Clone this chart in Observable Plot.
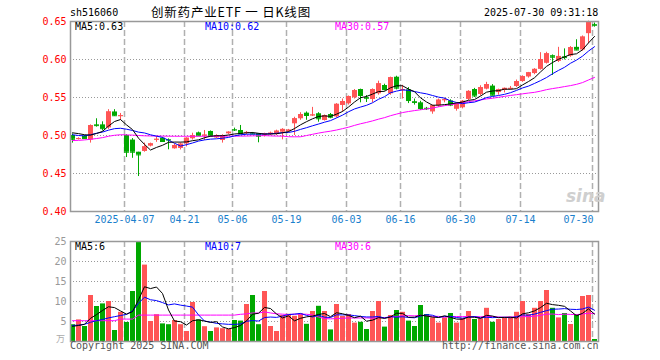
<!DOCTYPE html>
<html><head><meta charset="utf-8">
<script src="https://cdn.jsdelivr.net/npm/d3@7"></script>
<script src="https://cdn.jsdelivr.net/npm/@observablehq/plot@0.6"></script>
<style>
body{margin:0;background:#fff;}
#c{position:relative;width:660px;height:360px;overflow:hidden;font-family:"DejaVu Sans Mono",monospace;background:#fff;}
#c svg{position:absolute;left:0;}
.t{position:absolute;white-space:nowrap;font-size:10px;line-height:10px;}
</style></head><body><div id="c"></div>
<script>
// ---- data ----
const dates = [
"03-24","03-25","03-26","03-27","03-28","03-31",
"04-01","04-02","04-03","04-07","04-08","04-09","04-10","04-11","04-14","04-15","04-16","04-17","04-18",
"04-21","04-22","04-23","04-24","04-25","04-28","04-29","04-30",
"05-06","05-07","05-08","05-09","05-12","05-13","05-14","05-15","05-16","05-19","05-20","05-21","05-22","05-23",
"05-26","05-27","05-28","05-29","05-30",
"06-03","06-04","06-05","06-06","06-09","06-10","06-11","06-12","06-13","06-16","06-17","06-18","06-19","06-20",
"06-23","06-24","06-25","06-26","06-27","06-30",
"07-01","07-02","07-03","07-04","07-07","07-08","07-09","07-10","07-11","07-14","07-15","07-16","07-17","07-18",
"07-21","07-22","07-23","07-24","07-25","07-28","07-29","07-30"];
const open = [
0.500,0.495,0.499,0.494,0.514,0.514,0.510,0.531,0.525,0.500,
0.494,0.478,0.479,0.486,0.494,0.4964,0.4947,0.4825,0.483,0.489,
0.4957,0.5035,0.4995,0.5053,0.4968,0.4934,0.5022,0.5078,0.5066,0.503,
0.5025,0.5022,0.501,0.501,0.5013,0.5043,0.5053,0.5154,0.522,0.5294,
0.526,0.5286,0.5197,0.5276,0.5245,0.5395,0.5417,0.5496,0.5605,0.550,
0.5474,0.5549,0.5658,0.5549,0.5767,0.559,0.560,0.5445,0.543,0.5358,
0.531,0.539,0.546,0.5455,0.5345,0.5365,0.5475,0.5605,0.554,0.561,
0.565,0.5565,0.5595,0.5615,0.5645,0.571,0.577,0.5815,0.587,0.595,
0.605,0.5975,0.6035,0.6045,0.616,0.6125,0.634,0.646];
const high = [
0.502,0.497,0.500,0.514,0.522,0.518,0.534,0.534,0.529,0.501,
0.496,0.478,0.490,0.490,0.499,0.4975,0.4955,0.489,0.490,0.497,
0.503,0.5045,0.5066,0.506,0.501,0.501,0.505,0.5097,0.5132,0.5053,
0.504,0.5026,0.503,0.5045,0.507,0.509,0.508,0.524,0.530,0.531,
0.537,0.530,0.527,0.529,0.542,0.548,0.552,0.5605,0.561,0.5526,
0.5614,0.5715,0.5675,0.5768,0.578,0.566,0.563,0.548,0.545,0.537,
0.540,0.548,0.549,0.547,0.543,0.546,0.559,0.562,0.5655,0.570,
0.567,0.561,0.5625,0.5645,0.573,0.5785,0.583,0.588,0.609,0.6095,
0.606,0.616,0.614,0.617,0.626,0.631,0.6505,0.648];
const low = [
0.490,0.494,0.495,0.490,0.511,0.506,0.508,0.525,0.520,0.471,
0.470,0.446,0.478,0.485,0.491,0.491,0.4812,0.482,0.481,0.485,
0.494,0.499,0.4934,0.498,0.496,0.490,0.501,0.5053,0.5013,0.501,
0.501,0.4904,0.498,0.500,0.500,0.4943,0.5035,0.500,0.520,0.520,
0.525,0.5175,0.519,0.522,0.523,0.531,0.540,0.548,0.543,0.5434,
0.543,0.553,0.5585,0.553,0.560,0.548,0.542,0.540,0.533,0.533,
0.528,0.537,0.543,0.538,0.532,0.535,0.546,0.550,0.552,0.560,
0.552,0.553,0.556,0.560,0.563,0.570,0.5755,0.580,0.586,0.594,
0.579,0.596,0.5995,0.603,0.6115,0.611,0.621,0.6425];
const close = [
0.495,0.496,0.496,0.513,0.513,0.509,0.531,0.526,0.526,0.478,
0.478,0.4745,0.485,0.489,0.495,0.4921,0.494,0.4868,0.4886,0.4964,
0.500,0.4996,0.5005,0.499,0.4995,0.500,0.5043,0.5072,0.5022,0.504,
0.502,0.499,0.502,0.503,0.5057,0.508,0.507,0.522,0.5276,0.5263,
0.527,0.522,0.5263,0.524,0.541,0.5447,0.5513,0.559,0.5526,0.549,
0.5605,0.568,0.5605,0.576,0.5623,0.5605,0.546,0.5435,0.5355,0.5352,
0.539,0.5465,0.547,0.540,0.5415,0.545,0.558,0.552,0.563,0.567,
0.553,0.560,0.562,0.562,0.571,0.5775,0.5825,0.587,0.600,0.6075,
0.603,0.604,0.6025,0.6155,0.6125,0.6295,0.649,0.645];
const volume = [
4.2,5.4,3.75,11.5,8.75,9.4,10.0,2.75,7.3,4.75,
12.5,24.8,19.1,5.0,6.7,4.4,4.2,5.25,4.2,2.5,
9.75,5.4,3.7,2.5,3.4,3.2,3.0,5.25,5.1,9.25,
11.5,4.2,12.5,3.75,2.5,6.5,6.8,6.3,6.9,4.3,
7.5,8.8,7.5,2.9,9.25,6.25,6.75,4.6,4.8,3.0,
7.5,10.0,3.6,6.5,7.75,7.3,5.1,3.75,9.0,6.75,
5.9,4.6,5.9,7.0,4.6,5.7,7.5,5.5,5.7,8.3,
4.8,5.5,5.9,5.9,7.3,10.0,6.75,8.3,10.0,12.75,
8.3,5.9,7.0,4.25,6.75,11.25,11.5,0.5];
// moving-average values before the window fills (earlier days are off-chart)
const ma5Head = [0.5035,0.5025,0.501,0.5005];
const ma10Head = [0.501,0.500,0.4995,0.501,0.503,0.5045,0.507,0.509,0.5095];
const ma30Head = [0.4934,0.4936,0.4942,0.4950,0.4960,0.4972,0.4990,0.5003,0.5010,0.5008,
0.5005,0.5000,0.4996,0.4994,0.4993,0.4992,0.4991,0.4990,0.4990,0.4990,
0.4990,0.4990,0.4990,0.4990,0.4990,0.4991,0.4991,0.4992,0.4992];
const volMa5Head = [3.8,4.0,4.3,5.8];
const volMa10Head = [4.0,4.1,4.3,4.8,5.2,5.5,5.9,6.2,6.5];
const volMa30Head = [5.2,5.2,5.2,5.2,5.2,5.2,5.2,5.2,5.6,5.6,5.6,
6.6,6.6,6.6,6.6,6.6,6.6,6.6,6.6,6.6,6.6,6.6,6.6,6.6,6.6,6.6,6.6,6.6,6.8];
const tickDates = ["04-07","04-21","05-06","05-19","06-03","06-16","06-30","07-14","07-30"];
const tickLabels = ["2025-04-07","04-21","05-06","05-19","06-03","06-16","06-30","07-14","07-30"];
const priceTicks = [0.40,0.45,0.50,0.55,0.60,0.65];
const priceGrid = [0.45,0.50,0.55,0.60];
const volTicks = [5,10,15,20,25];
const volGrid = [5,10,15,20];
const maLabels = ["MA5:0.63","MA10:0.62","MA30:0.57"];
const volMaLabels = ["MA5:6","MA10:7","MA30:6"];

// ---- build ----
const UP = "#ff5555", DOWN = "#00a800";
function movingAverage(vals, n, head) {
  return vals.map((v, i) => i < n - 1 ? head[i] : d3.mean(vals.slice(i - n + 1, i + 1)));
}
const ma5 = movingAverage(close, 5, ma5Head), ma10 = movingAverage(close, 10, ma10Head), ma30 = movingAverage(close, 30, ma30Head);
const vma5 = movingAverage(volume, 5, volMa5Head), vma10 = movingAverage(volume, 10, volMa10Head), vma30 = movingAverage(volume, 30, volMa30Head);
const rows = dates.map((d, i) => ({date: d, open: open[i], high: high[i], low: low[i], close: close[i], vol: volume[i],
  color: close[i] >= open[i] ? UP : DOWN, ma5: ma5[i], ma10: ma10[i], ma30: ma30[i], vma5: vma5[i], vma10: vma10[i], vma30: vma30[i]}));
const labelOf = Object.fromEntries(tickDates.map((d, i) => [d, tickLabels[i]]));
const xOpts = {type: "band", domain: dates, range: [69, 597], padding: 0, axis: null};
const FONT = "DejaVu Sans Mono, monospace";
const lastTick = tickDates[tickDates.length - 1];

const main = Plot.plot({
  width: 660, height: 240, marginTop: 21, marginBottom: 29, marginLeft: 70, marginRight: 62,
  style: {background: "transparent", fontFamily: FONT, fontSize: "10px", overflow: "visible"},
  x: xOpts,
  y: {domain: [0.40, 0.65], axis: null},
  color: {type: "identity"},
  marks: [
    Plot.ruleY(priceGrid, {stroke: "#999", strokeDasharray: "1,2"}),
    Plot.ruleX(tickDates, {stroke: "#b0b0b0", strokeDasharray: "6,3", strokeWidth: 1.5, dx: -2}),
    Plot.ruleX(rows, {x: "date", y1: "low", y2: "high", stroke: "color"}),
    Plot.barY(rows, {x: "date", y1: "open", y2: "close", fill: "color", insetLeft: 1, insetRight: 0}),
    Plot.tickY(rows, {x: "date", y: "close", stroke: "color", insetLeft: 1, insetRight: 0}),
    Plot.lineY(rows, {x: "date", y: "ma30", stroke: "#ff00ff", strokeWidth: 1}),
    Plot.lineY(rows, {x: "date", y: "ma10", stroke: "#0000ff", strokeWidth: 1}),
    Plot.lineY(rows, {x: "date", y: "ma5", stroke: "#000000", strokeWidth: 1}),
    Plot.frame({stroke: "#999", strokeWidth: 1.5}),
    Plot.axisY(priceTicks, {tickSize: 0, tickPadding: 4, tickFormat: d3.format(".2f"), fill: "#ff0000", fontSize: 10, label: null}),
    Plot.axisX(tickDates.slice(0, -1), {tickSize: 0, tickPadding: 4, tickFormat: d => labelOf[d], fill: "#1a80cc", dx: -2, fontSize: 10, label: null}),
    Plot.axisX([lastTick], {tickSize: 0, tickPadding: 4, tickFormat: d => labelOf[d], fill: "#1a80cc", dx: -1, textAnchor: "end", fontSize: 10, label: null})
  ]
});
main.style.top = "0px";

const vol = Plot.plot({
  width: 660, height: 130, marginTop: 11, marginBottom: 19, marginLeft: 70, marginRight: 62,
  style: {background: "transparent", fontFamily: FONT, fontSize: "10px", overflow: "visible"},
  x: xOpts,
  y: {domain: [0, 25], axis: null},
  color: {type: "identity"},
  marks: [
    Plot.ruleY(volGrid, {stroke: "#999", strokeDasharray: "1,2"}),
    Plot.ruleX(tickDates, {stroke: "#b0b0b0", strokeDasharray: "6,3", strokeWidth: 1.5, dx: -2}),
    Plot.barY(rows, {x: "date", y: "vol", fill: "color", insetLeft: 1, insetRight: 0}),
    Plot.lineY(rows, {x: "date", y: "vma30", stroke: "#ff00ff", strokeWidth: 1}),
    Plot.lineY(rows, {x: "date", y: "vma10", stroke: "#0000ff", strokeWidth: 1}),
    Plot.lineY(rows, {x: "date", y: "vma5", stroke: "#000000", strokeWidth: 1}),
    Plot.frame({stroke: "#999", strokeWidth: 1.5}),
    Plot.axisY(volTicks, {tickSize: 0, tickPadding: 4, fill: "#999", fontSize: 10, label: null})
  ]
});
vol.style.top = "230px";

const c = document.getElementById("c");
c.append(main, vol);
function addText(txt, left, top, css) {
  const d = document.createElement("div");
  d.className = "t"; d.textContent = txt;
  d.style.left = left + "px"; d.style.top = top + "px";
  Object.assign(d.style, css || {});
  c.append(d);
}
addText("sh516060", 70, 8, {color: "#000"});
addText("创新药产业ETF 一 日K线图", 151, 5, {fontFamily: "'Noto Sans CJK SC', sans-serif", fontSize: "12.5px", lineHeight: "14px", letterSpacing: "0.8px", color: "#000"});
addText("2025-07-30 09:31:18", 484, 8, {color: "#000"});
const maColors = ["#000", "#0000ff", "#ff00ff"], maX = [75, 205, 335];
maLabels.forEach((s, i) => addText(s, maX[i], 21.5, {color: maColors[i]}));
volMaLabels.forEach((s, i) => addText(s, maX[i], 241.5, {color: maColors[i]}));
addText("万", 56, 334, {fontFamily: "'Noto Sans CJK SC', sans-serif", fontSize: "9px", color: "#aaa"});
addText("Copyright 2025 SINA.COM", 70, 341, {color: "#555"});
addText("http://finance.sina.com.cn", 442, 341, {color: "#555"});
addText("sina", 566, 188, {fontFamily: "'DejaVu Sans', sans-serif", fontSize: "17px", lineHeight: "17px", fontWeight: "bold", fontStyle: "italic", color: "#cfcfcf"});
</script>
</body></html>
